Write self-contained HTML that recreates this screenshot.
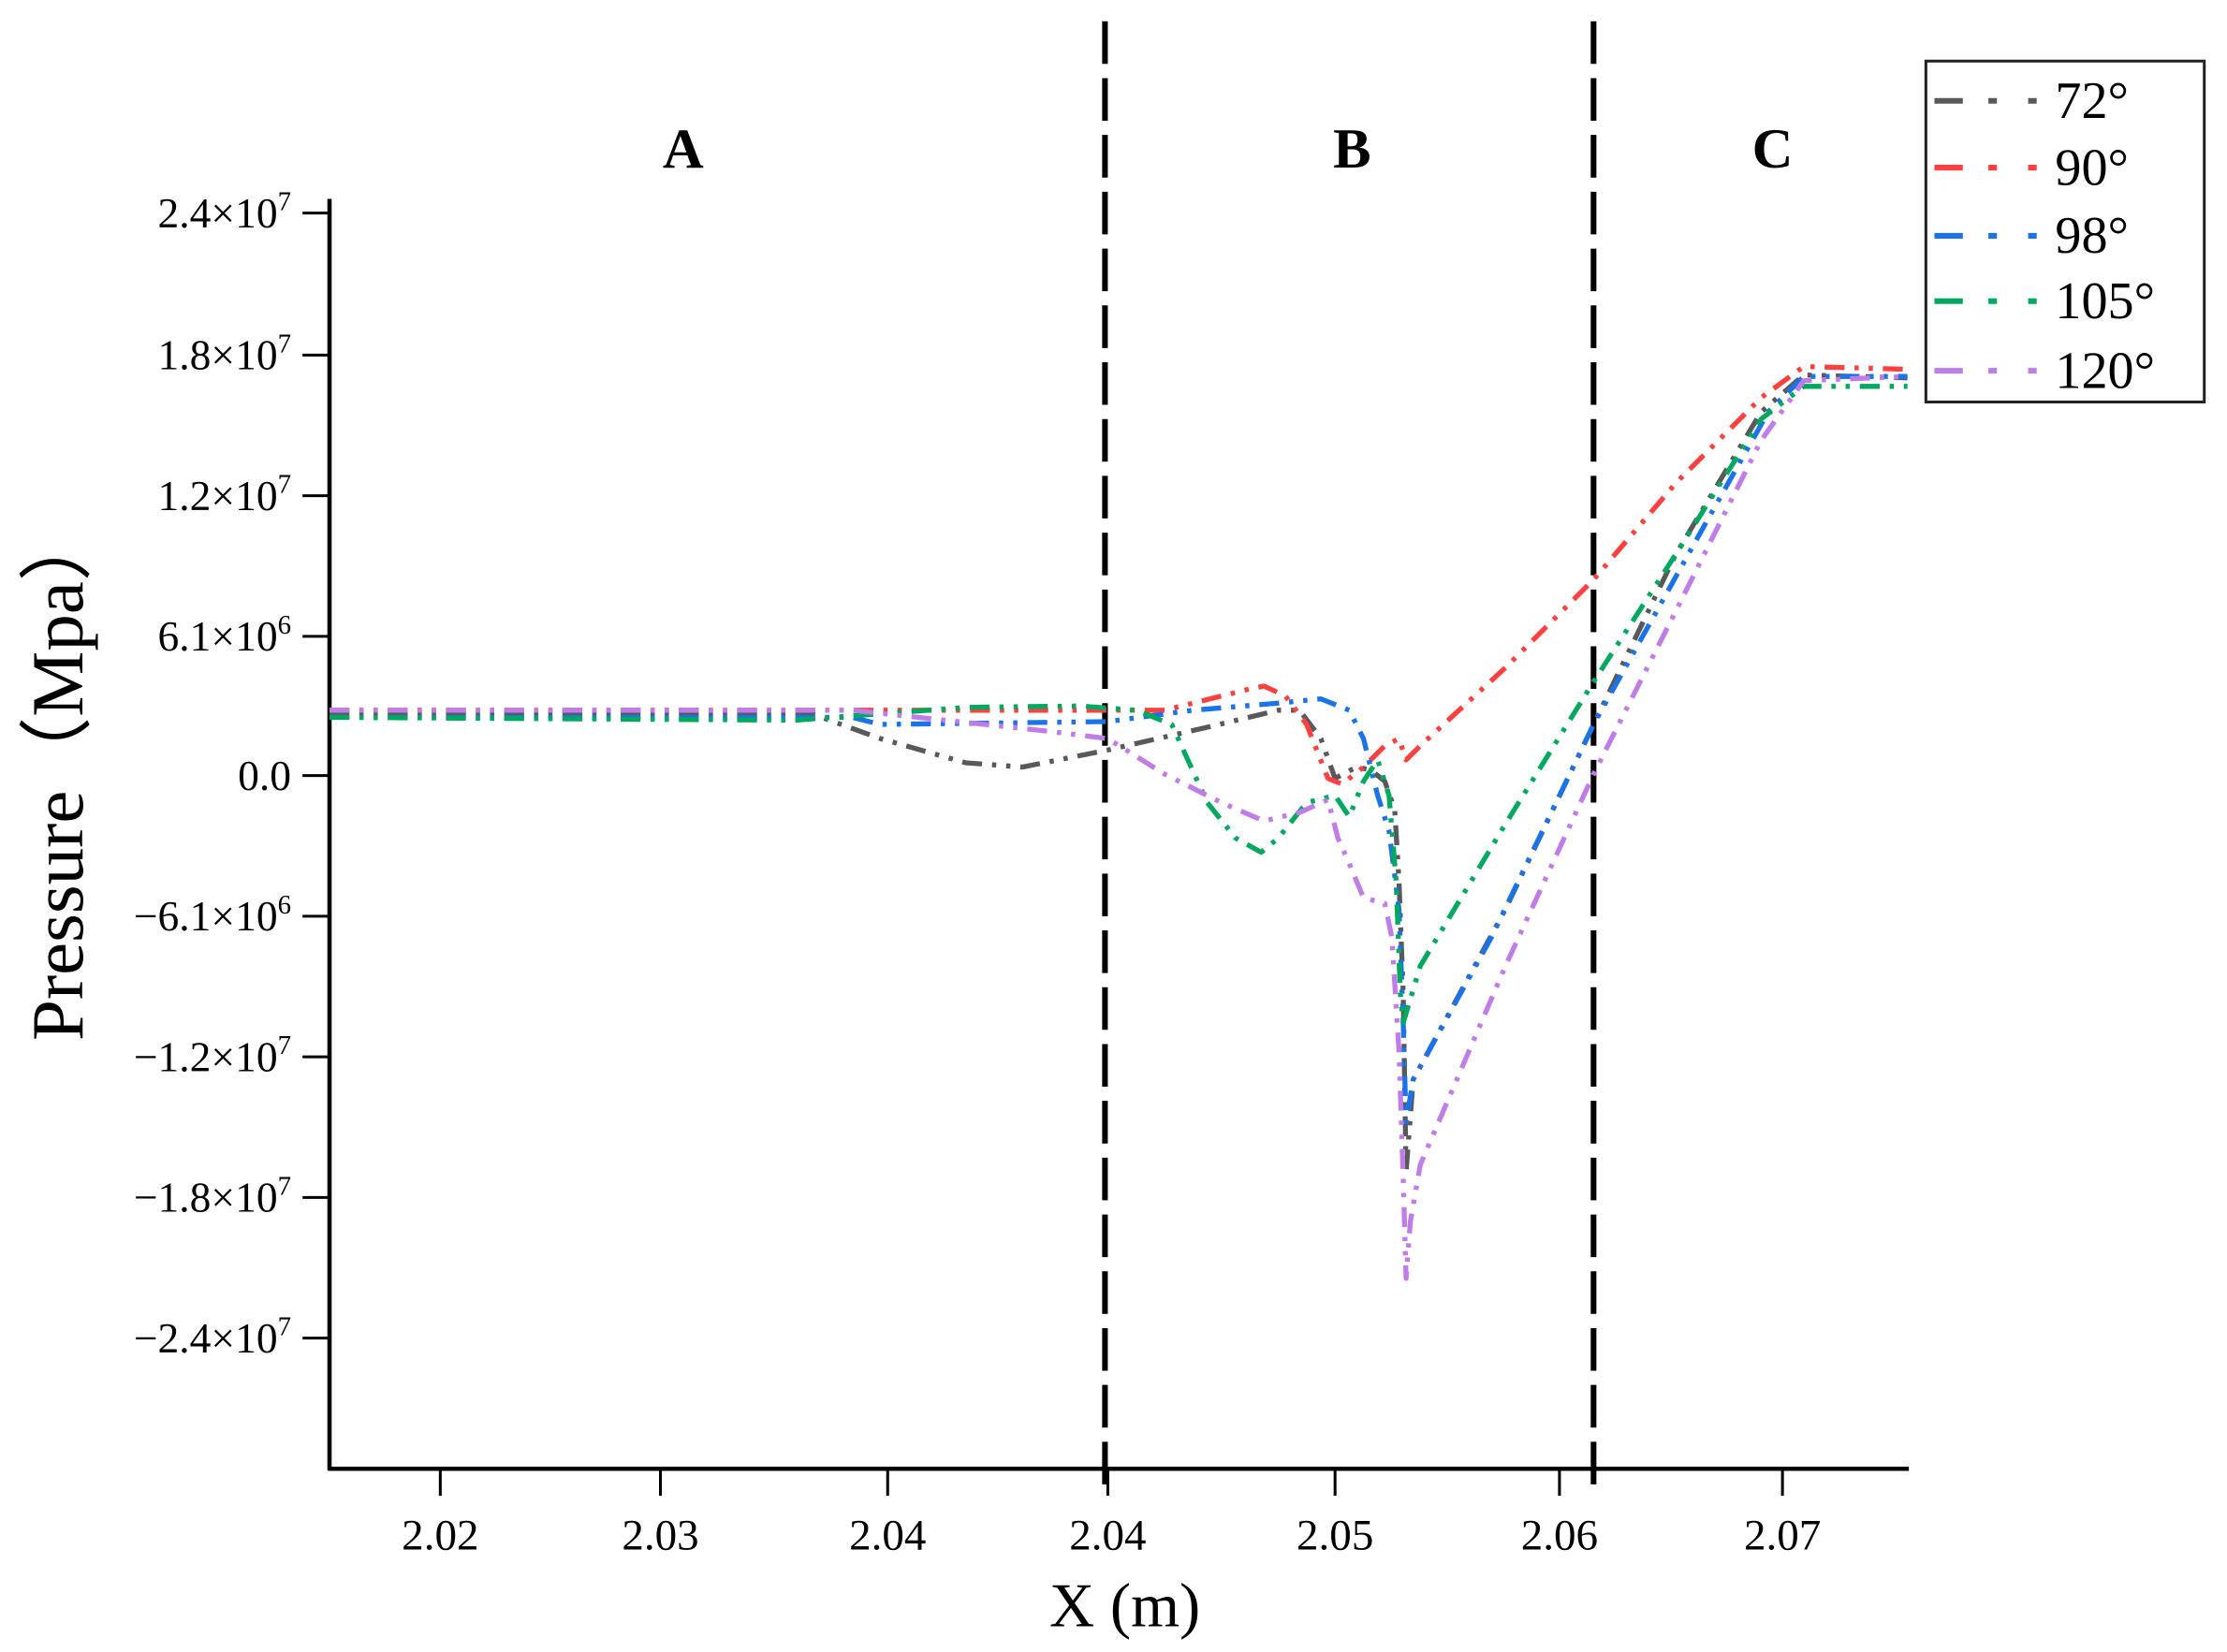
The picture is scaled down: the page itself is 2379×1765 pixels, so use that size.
<!DOCTYPE html>
<html><head><meta charset="utf-8"><style>html,body{margin:0;padding:0;background:#fff}svg{display:block}</style></head>
<body>
<svg width="2379" height="1765" viewBox="0 0 1568 1163" preserveAspectRatio="none" xmlns="http://www.w3.org/2000/svg" font-family="'Liberation Serif', serif">
<rect width="1568" height="1163" fill="#fff"/>
<line x1="232" y1="140" x2="232" y2="1035" stroke="#000" stroke-width="3"/>
<line x1="231" y1="1034" x2="1344" y2="1034" stroke="#000" stroke-width="3"/>
<g stroke="#000" stroke-width="2">
<line x1="213" y1="150" x2="232" y2="150"/><line x1="213" y1="250" x2="232" y2="250"/>
<line x1="213" y1="349" x2="232" y2="349"/><line x1="213" y1="448" x2="232" y2="448"/>
<line x1="213" y1="546" x2="232" y2="546"/><line x1="213" y1="645" x2="232" y2="645"/>
<line x1="213" y1="744" x2="232" y2="744"/><line x1="213" y1="843" x2="232" y2="843"/>
<line x1="213" y1="942" x2="232" y2="942"/>
<line x1="310" y1="1034" x2="310" y2="1053"/><line x1="465" y1="1034" x2="465" y2="1053"/>
<line x1="625" y1="1034" x2="625" y2="1053"/><line x1="780" y1="1034" x2="780" y2="1053"/>
<line x1="940" y1="1034" x2="940" y2="1053"/><line x1="1098" y1="1034" x2="1098" y2="1053"/>
<line x1="1255" y1="1034" x2="1255" y2="1053"/>
</g>
<g font-size="30" text-anchor="end" fill="#000">
<text x="205" y="160">2.4×10<tspan dy="-12" font-size="19">7</tspan></text>
<text x="205" y="260">1.8×10<tspan dy="-12" font-size="19">7</tspan></text>
<text x="205" y="359">1.2×10<tspan dy="-12" font-size="19">7</tspan></text>
<text x="205" y="458">6.1×10<tspan dy="-12" font-size="19">6</tspan></text>
<text x="205" y="556">0.0</text>
<text x="205" y="655">−6.1×10<tspan dy="-12" font-size="19">6</tspan></text>
<text x="205" y="754">−1.2×10<tspan dy="-12" font-size="19">7</tspan></text>
<text x="205" y="853">−1.8×10<tspan dy="-12" font-size="19">7</tspan></text>
<text x="205" y="952">−2.4×10<tspan dy="-12" font-size="19">7</tspan></text>
</g>
<g font-size="31" text-anchor="middle" fill="#000">
<text x="310" y="1091">2.02</text><text x="465" y="1091">2.03</text><text x="625" y="1091">2.04</text>
<text x="780" y="1091">2.04</text><text x="940" y="1091">2.05</text><text x="1098" y="1091">2.06</text>
<text x="1255" y="1091">2.07</text>
</g>
<text x="792" y="1145" font-size="44" text-anchor="middle">X (m)</text>
<text transform="translate(58,545) rotate(-90)" font-size="52" text-anchor="middle">Pressure（Mpa）</text>
<g font-size="40" font-weight="bold" text-anchor="middle">
<text x="481" y="118">A</text><text x="952" y="118">B</text><text x="1248" y="118">C</text>
</g>
<g stroke="#000" stroke-width="4" stroke-dasharray="30,10">
<line x1="778" y1="15" x2="778" y2="1045"/>
<line x1="1122" y1="15" x2="1122" y2="1045"/>
</g>
<g fill="none" stroke-width="3.5" stroke-dasharray="14,7,3,7,3,7" stroke-linejoin="round">
<polyline stroke="#595959" points="232,502 570,502 620,520 680,537 720,540 780,528 850,512 900,500 915,500 930,520 940,548 955,540 965,542 975,550 982,570 985,620 988,700 990,825 995,760 1060,640 1122,510 1180,390 1240,290 1270,264 1343,266"/>
<polyline stroke="#ff4040" points="232,500 820,500 880,485 890,483 905,490 920,510 935,548 945,552 960,540 975,525 985,520 990,535 1000,525 1060,470 1122,408 1180,340 1240,280 1270,258 1343,260"/>
<polyline stroke="#1a73e8" points="232,505 600,505 620,510 780,508 840,500 900,495 930,492 950,500 960,520 970,560 978,585 985,640 988,720 990,790 995,760 1050,660 1122,510 1200,370 1245,290 1270,265 1343,265"/>
<polyline stroke="#00a860" points="232,505 560,507 680,498 760,497 800,500 825,510 850,565 870,590 888,600 900,590 920,565 940,560 950,575 960,550 970,535 978,560 983,620 986,700 988,720 1000,680 1060,580 1122,480 1180,390 1240,295 1270,272 1343,272"/>
<polyline stroke="#c07de8" points="232,500 600,500 740,515 780,520 820,545 860,565 890,578 915,572 935,563 942,590 950,608 960,632 975,636 980,660 985,740 988,830 990,900 993,860 1000,820 1060,680 1122,545 1180,430 1240,310 1270,268 1343,265"/>
</g>
<rect x="1356" y="43" width="196" height="240" fill="#fff" stroke="#222" stroke-width="2"/>
<g fill="none" stroke-width="4" stroke-dasharray="20,18,6,22,6,18,30">
<line x1="1362" y1="71" x2="1449" y2="71" stroke="#595959"/>
<line x1="1362" y1="118" x2="1449" y2="118" stroke="#ff4040"/>
<line x1="1362" y1="166" x2="1449" y2="166" stroke="#1a73e8"/>
<line x1="1362" y1="212" x2="1449" y2="212" stroke="#00a860"/>
<line x1="1362" y1="261" x2="1449" y2="261" stroke="#c07de8"/>
</g>
<g font-size="37" fill="#000">
<text x="1447" y="83">72°</text><text x="1447" y="130">90°</text><text x="1447" y="178">98°</text>
<text x="1447" y="224">105°</text><text x="1447" y="273">120°</text>
</g>
</svg>
</body></html>
